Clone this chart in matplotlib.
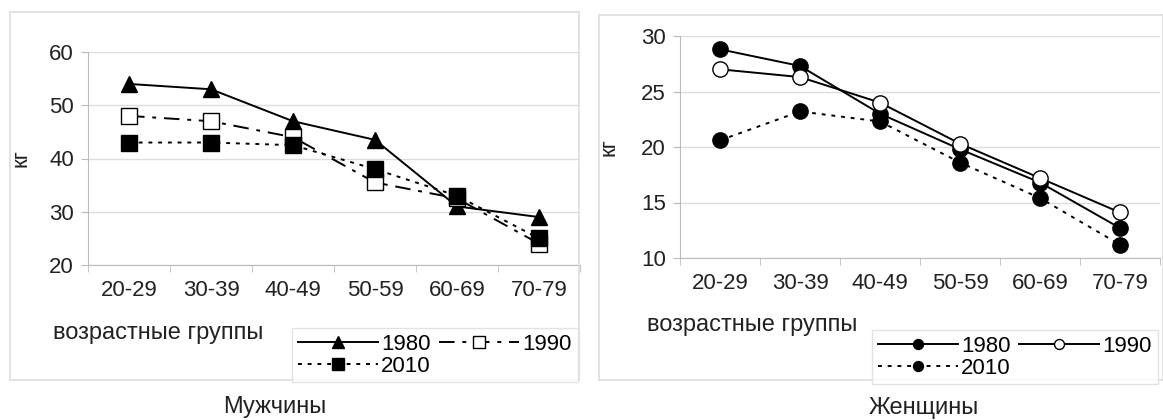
import matplotlib.pyplot as plt
from matplotlib.patches import Rectangle

plt.rcParams['font.family'] = ['Liberation Sans', 'DejaVu Sans']

groups = ["20-29", "30-39", "40-49", "50-59", "60-69", "70-79"]

# Мужчины
men_1980 = [54, 53, 47, 43.5, 31, 29]
men_1990 = [48, 47, 44, 35.5, 32.5, 24]
men_2010 = [43, 43, 42.5, 38, 33, 25]

# Женщины
women_1980 = [28.8, 27.3, 23, 19.8, 16.8, 12.7]
women_1990 = [27, 26.3, 24, 20.3, 17.2, 14.1]
women_2010 = [20.6, 23.2, 22.3, 18.6, 15.4, 11.2]

W, H = 1163, 420
fig = plt.figure(figsize=(W / 100, H / 100), dpi=100)
fs = 16


def px(l, t, r, b):
    return [l / W, 1 - b / H, (r - l) / W, (b - t) / H]


def style_axes(ax, ymin, ymax, step):
    x = range(len(groups))
    ax.set_xlim(-0.5, len(groups) - 0.5)
    ax.set_ylim(ymin, ymax)
    ax.set_yticks(range(ymin, ymax + 1, step))
    ax.set_xticks(x)
    ax.set_xticklabels(groups, fontsize=fs, color='#222222')
    ax.set_xticks([i - 0.5 for i in range(len(groups) + 1)], minor=True)
    ax.tick_params(axis='x', which='major', length=0, pad=11)
    ax.tick_params(axis='x', which='minor', length=5, color='#bbbbbb')
    ax.tick_params(axis='y', length=5, color='#bbbbbb', labelsize=fs, pad=5,
                   labelcolor='#222222')
    for s in ['top', 'right']:
        ax.spines[s].set_visible(False)
    for s in ['left', 'bottom']:
        ax.spines[s].set_color('#bbbbbb')
    ax.grid(axis='y', color='#dddddd', lw=1)
    ax.set_axisbelow(True)
    ax.set_ylabel("кг", fontsize=16, color='#222222')


# panel borders
for l, t, r, b in [(10, 12, 579, 380), (599, 15, 1163, 380)]:
    fig.patches.append(Rectangle((l / W, 1 - b / H), (r - l) / W, (b - t) / H,
                                 transform=fig.transFigure, fill=False,
                                 edgecolor='#dddddd', lw=1.2))

leg_kw = dict(ncol=2, fontsize=fs, loc='upper left', frameon=True, fancybox=False,
              edgecolor='#dddddd', borderpad=0.25, handlelength=3.6, handletextpad=0.15,
              columnspacing=0.4, labelspacing=0.05, borderaxespad=0)

# left: Мужчины
ax1 = fig.add_axes(px(88, 52, 580, 265))
x = range(len(groups))
l1, = ax1.plot(x, men_1980, '-', color='black', lw=1.4, marker='^', ms=12, label='1980')
l2, = ax1.plot(x, men_1990, color='black', lw=1.4, ls=(0, (8, 4, 2, 4)), marker='s', ms=11,
               mfc='white', mec='black', label='1990')
l3, = ax1.plot(x, men_2010, color='black', lw=1.4, ls=(0, (2, 3)), marker='s', ms=11, label='2010')
style_axes(ax1, 20, 60, 10)
ax1.yaxis.set_label_coords(-0.115, 0.5)
fig.text(53 / W, 1 - 333 / H, "возрастные группы", fontsize=17, va='center', color='#222222')
fig.legend([l1, l3, l2], ['1980', '2010', '1990'], bbox_to_anchor=(292 / W, 1 - 328 / H),
           markerscale=0.75, **leg_kw)
fig.text(275 / W, 1 - 407 / H, "Мужчины", fontsize=17, ha='center', va='center', color='#222222')

# right: Женщины
ax2 = fig.add_axes(px(680, 36, 1160, 258))
r1, = ax2.plot(x, women_1980, '-', color='black', lw=1.4, marker='o', ms=11, label='1980')
r2, = ax2.plot(x, women_1990, '-', color='black', lw=1.4, marker='o', ms=11,
               mfc='white', mec='black', label='1990')
r3, = ax2.plot(x, women_2010, color='black', lw=1.4, ls=(0, (2, 3)), marker='o', ms=11, label='2010')
style_axes(ax2, 10, 30, 5)
ax2.yaxis.set_label_coords(-0.125, 0.5)
fig.text(647 / W, 1 - 325 / H, "возрастные группы", fontsize=17, va='center', color='#222222')
fig.legend([r1, r3, r2], ['1980', '2010', '1990'], bbox_to_anchor=(872 / W, 1 - 330 / H),
           markerscale=0.65, **leg_kw)
fig.text(924 / W, 1 - 408 / H, "Женщины", fontsize=17, ha='center', va='center', color='#222222')

fig.savefig("out.png", dpi=100)
